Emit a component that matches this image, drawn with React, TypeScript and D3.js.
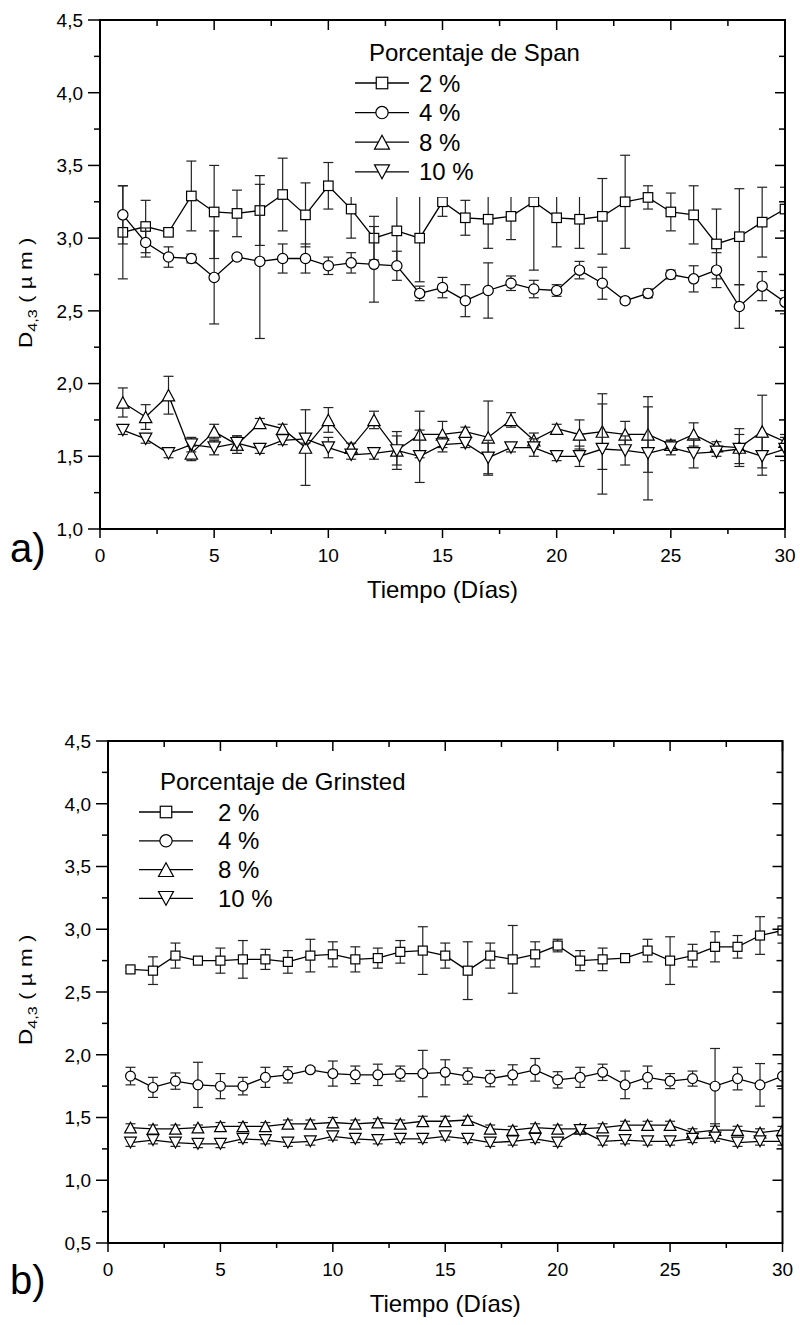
import { formatLocale, line as d3Line, scaleLinear } from "d3"

const days = [1, 2, 3, 4, 5, 6, 7, 8, 9, 10, 11, 12, 13, 14, 15, 16, 17, 18, 19, 20, 21, 22, 23, 24, 25, 26, 27, 28, 29, 30]

// a) Span
const span2 = [3.04, 3.08, 3.04, 3.29, 3.18, 3.17, 3.19, 3.3, 3.16, 3.36, 3.2, 3.0, 3.05, 3.0, 3.25, 3.14, 3.13, 3.15, 3.25, 3.14, 3.13, 3.15, 3.25, 3.28, 3.18, 3.16, 2.96, 3.01, 3.11, 3.2]
const span2Err = [0.32, 0.18, 0.02, 0.24, 0.32, 0.16, 0.24, 0.25, 0.22, 0.16, 0.2, 0.15, 0.25, 0.3, 0.1, 0.12, 0.2, 0.16, 0.47, 0.2, 0.2, 0.26, 0.32, 0.08, 0.13, 0.2, 0.24, 0.33, 0.24, 0.15]
const span4 = [3.16, 2.97, 2.87, 2.86, 2.73, 2.87, 2.84, 2.86, 2.86, 2.81, 2.83, 2.82, 2.81, 2.62, 2.66, 2.57, 2.64, 2.69, 2.65, 2.64, 2.78, 2.69, 2.57, 2.62, 2.75, 2.72, 2.78, 2.53, 2.67, 2.56]
const span4Err = [0.2, 0.1, 0.07, 0.03, 0.32, 0.02, 0.53, 0.1, 0.1, 0.06, 0.07, 0.26, 0.1, 0.05, 0.07, 0.11, 0.19, 0.05, 0.06, 0.04, 0.06, 0.11, 0.02, 0.03, 0.03, 0.09, 0.12, 0.15, 0.1, 0.08]
const span8 = [1.87, 1.77, 1.92, 1.52, 1.67, 1.58, 1.73, 1.69, 1.56, 1.75, 1.56, 1.75, 1.54, 1.65, 1.65, 1.67, 1.63, 1.75, 1.61, 1.69, 1.65, 1.67, 1.65, 1.65, 1.58, 1.65, 1.57, 1.56, 1.67, 1.6]
const span8Err = [0.1, 0.085, 0.13, 0.05, 0.05, 0.06, 0.03, 0.03, 0.26, 0.085, 0.03, 0.06, 0.13, 0.16, 0.09, 0.03, 0.25, 0.05, 0.05, 0.03, 0.1, 0.26, 0.09, 0.26, 0.03, 0.08, 0.03, 0.13, 0.25, 0.05]
const span10 = [1.68, 1.62, 1.52, 1.58, 1.56, 1.59, 1.55, 1.61, 1.62, 1.56, 1.51, 1.52, 1.54, 1.5, 1.58, 1.59, 1.49, 1.56, 1.56, 1.5, 1.5, 1.55, 1.54, 1.52, 1.56, 1.52, 1.53, 1.55, 1.5, 1.55]
const span10Err = [0.03, 0.03, 0.03, 0.05, 0.05, 0.05, 0.03, 0.03, 0.03, 0.07, 0.03, 0.04, 0.1, 0.18, 0.05, 0.03, 0.12, 0.03, 0.06, 0.03, 0.07, 0.31, 0.1, 0.32, 0.05, 0.1, 0.03, 0.1, 0.13, 0.08]

// b) Grinsted
const grin2 = [2.68, 2.67, 2.79, 2.75, 2.75, 2.76, 2.76, 2.74, 2.79, 2.8, 2.76, 2.77, 2.82, 2.83, 2.79, 2.67, 2.79, 2.76, 2.8, 2.87, 2.75, 2.76, 2.77, 2.83, 2.75, 2.79, 2.86, 2.86, 2.95, 2.99]
const grin2Err = [0.02, 0.11, 0.1, 0.02, 0.1, 0.15, 0.08, 0.09, 0.13, 0.1, 0.1, 0.08, 0.09, 0.19, 0.1, 0.23, 0.1, 0.27, 0.1, 0.05, 0.08, 0.09, 0.02, 0.09, 0.19, 0.09, 0.12, 0.09, 0.15, 0.1]
const grin4 = [1.83, 1.74, 1.79, 1.76, 1.75, 1.75, 1.82, 1.84, 1.88, 1.85, 1.84, 1.84, 1.85, 1.85, 1.86, 1.83, 1.81, 1.84, 1.88, 1.8, 1.82, 1.86, 1.76, 1.82, 1.79, 1.81, 1.75, 1.81, 1.76, 1.83]
const grin4Err = [0.07, 0.08, 0.065, 0.18, 0.1, 0.07, 0.08, 0.065, 0.02, 0.1, 0.07, 0.085, 0.06, 0.185, 0.1, 0.065, 0.065, 0.08, 0.09, 0.065, 0.08, 0.065, 0.11, 0.09, 0.06, 0.06, 0.3, 0.09, 0.17, 0.1]
const grin8 = [1.42, 1.41, 1.41, 1.42, 1.43, 1.43, 1.43, 1.45, 1.45, 1.46, 1.45, 1.46, 1.45, 1.47, 1.47, 1.48, 1.41, 1.4, 1.42, 1.41, 1.41, 1.42, 1.44, 1.44, 1.44, 1.38, 1.4, 1.4, 1.38, 1.4]
const grin8Err = [0.03, 0.03, 0.03, 0.02, 0.03, 0.03, 0.03, 0.03, 0.03, 0.04, 0.03, 0.03, 0.03, 0.04, 0.04, 0.03, 0.03, 0.03, 0.03, 0.03, 0.03, 0.03, 0.03, 0.03, 0.03, 0.03, 0.03, 0.03, 0.03, 0.03]
const grin10 = [1.3, 1.32, 1.3, 1.29, 1.29, 1.33, 1.32, 1.3, 1.31, 1.35, 1.33, 1.32, 1.33, 1.33, 1.35, 1.33, 1.3, 1.31, 1.33, 1.3, 1.4, 1.31, 1.32, 1.31, 1.31, 1.33, 1.34, 1.3, 1.31, 1.31]
const grin10Err = [0.03, 0.03, 0.03, 0.03, 0.03, 0.03, 0.03, 0.03, 0.03, 0.03, 0.03, 0.03, 0.03, 0.03, 0.03, 0.03, 0.03, 0.03, 0.03, 0.03, 0.03, 0.03, 0.03, 0.03, 0.03, 0.03, 0.03, 0.03, 0.03, 0.03]

const legendLabels = ["2 %", "4 %", "8 %", "10 %"]
const xTicks = [0, 5, 10, 15, 20, 25, 30]
const spanYTicks = [1.0, 1.5, 2.0, 2.5, 3.0, 3.5, 4.0, 4.5]
const grinYTicks = [0.5, 1.0, 1.5, 2.0, 2.5, 3.0, 3.5, 4.0, 4.5]

type Shape = "square" | "circle" | "up" | "down"
const shapes: Shape[] = ["square", "circle", "up", "down"]

const FONT = "'Liberation Sans', Arial, Helvetica, sans-serif"
const fmt = formatLocale({ decimal: ",", thousands: ".", grouping: [3], currency: ["", ""] }).format(".1f")

function Marker({ shape, cx, cy, s }: { shape: Shape; cx: number; cy: number; s: number }) {
  const common = { fill: "#fff", stroke: "#000", strokeWidth: 1.2 }
  if (shape === "square") return <rect x={cx - s / 2} y={cy - s / 2} width={s} height={s} {...common} />
  if (shape === "circle") return <circle cx={cx} cy={cy} r={s / 2 + 0.4} {...common} />
  const w = s * 1.3
  const h = s * 1.2
  const pts = shape === "up"
    ? [[cx, cy - h / 2], [cx + w / 2, cy + h / 2], [cx - w / 2, cy + h / 2]]
    : [[cx, cy + h / 2], [cx + w / 2, cy - h / 2], [cx - w / 2, cy - h / 2]]
  return <polygon points={pts.map((p) => p.join(",")).join(" ")} {...common} />
}

interface Frame { x0: number; x1: number; y0: number; y1: number }
interface LegendDef { title: string; titleX: number; titleY: number; lineX0: number; lineX1: number; textX: number; row0: number; gap: number; box: [number, number, number, number] }

interface PanelProps {
  id: string
  frame: Frame
  yTicks: number[]
  values: number[][]
  errors: number[][]
  legend: LegendDef
  tag: string
  tagY: number
  ylabY: number
}

function Panel({ id, frame, yTicks, values, errors, legend, tag, tagY, ylabY }: PanelProps) {
  const x = scaleLinear().domain([0, 30]).range([frame.x0, frame.x1])
  const y = scaleLinear().domain([yTicks[0], yTicks[yTicks.length - 1]]).range([frame.y1, frame.y0])
  const xMinor = xTicks.slice(1).map((t) => t - 2.5)
  const yMinor = yTicks.slice(1).map((t) => t - 0.25)
  const path = d3Line<number>().x((_, i) => x(days[i])).y((v) => y(v))
  const markerSize = id === "a" ? 9.5 : 9

  return (
    <g fontFamily={FONT}>
      <defs>
        <clipPath id={`clip-${id}`}>
          <rect x={frame.x0} y={frame.y0} width={frame.x1 - frame.x0} height={frame.y1 - frame.y0} />
        </clipPath>
      </defs>

      <g clipPath={`url(#clip-${id})`}>
        {values.map((vals, si) => (
          <g key={si}>
            <path d={path(vals) ?? ""} fill="none" stroke="#000" strokeWidth={1.3} />
            {vals.map((v, i) => {
              const e = errors[si][i]
              const cx = x(days[i])
              return (
                <g key={i} stroke="#222" strokeWidth={1.2}>
                  <line x1={cx} x2={cx} y1={y(v - e)} y2={y(v + e)} />
                  <line x1={cx - 5} x2={cx + 5} y1={y(v - e)} y2={y(v - e)} />
                  <line x1={cx - 5} x2={cx + 5} y1={y(v + e)} y2={y(v + e)} />
                </g>
              )
            })}
            {vals.map((v, i) => (
              <Marker key={i} shape={shapes[si]} cx={x(days[i])} cy={y(v)} s={markerSize} />
            ))}
          </g>
        ))}
      </g>

      <rect x={legend.box[0]} y={legend.box[1]} width={legend.box[2] - legend.box[0]} height={legend.box[3] - legend.box[1]} fill="#fff" />
      <text x={legend.titleX} y={legend.titleY} fontSize={24}>{legend.title}</text>
      {legendLabels.map((label, i) => {
        const ry = legend.row0 + i * legend.gap
        const mx = (legend.lineX0 + legend.lineX1) / 2
        return (
          <g key={label}>
            <line x1={legend.lineX0} x2={legend.lineX1} y1={ry} y2={ry} stroke="#000" strokeWidth={1.3} />
            <Marker shape={shapes[i]} cx={mx} cy={ry} s={11.5} />
            <text x={legend.textX} y={ry} dy="0.36em" fontSize={24}>{label}</text>
          </g>
        )
      })}

      <rect x={frame.x0} y={frame.y0} width={frame.x1 - frame.x0} height={frame.y1 - frame.y0} fill="none" stroke="#000" strokeWidth={2} />

      {xTicks.map((t) => (
        <g key={`x${t}`} stroke="#000" strokeWidth={1.5}>
          <line x1={x(t)} x2={x(t)} y1={frame.y1} y2={frame.y1 + 9} />
          <line x1={x(t)} x2={x(t)} y1={frame.y0} y2={frame.y0 + 10} />
        </g>
      ))}
      {xMinor.map((t) => (
        <g key={`xm${t}`} stroke="#000" strokeWidth={1.5}>
          <line x1={x(t)} x2={x(t)} y1={frame.y1} y2={frame.y1 + 5} />
          <line x1={x(t)} x2={x(t)} y1={frame.y0} y2={frame.y0 + 6} />
        </g>
      ))}
      {yTicks.map((t) => (
        <g key={`y${t}`} stroke="#000" strokeWidth={1.5}>
          <line x1={frame.x0 - 12} x2={frame.x0} y1={y(t)} y2={y(t)} />
          <line x1={frame.x1 - 10} x2={frame.x1} y1={y(t)} y2={y(t)} />
        </g>
      ))}
      {yMinor.map((t) => (
        <g key={`ym${t}`} stroke="#000" strokeWidth={1.5}>
          <line x1={frame.x0 - 6} x2={frame.x0} y1={y(t)} y2={y(t)} />
          <line x1={frame.x1 - 6} x2={frame.x1} y1={y(t)} y2={y(t)} />
        </g>
      ))}

      {xTicks.map((t) => (
        <text key={`xl${t}`} x={x(t)} y={frame.y1 + 33} textAnchor="middle" fontSize={19}>{t}</text>
      ))}
      {yTicks.map((t) => (
        <text key={`yl${t}`} x={frame.x0 - 17} y={y(t)} dy="0.36em" textAnchor="end" fontSize={19}>{fmt(t)}</text>
      ))}

      <text x={(frame.x0 + frame.x1) / 2} y={frame.y1 + 69} textAnchor="middle" fontSize={24}>Tiempo (Días)</text>
      <g transform={`translate(32,${ylabY}) rotate(-90) scale(1.25,1)`}>
        <text fontSize={18}>
          D<tspan dy={5} fontSize={13}>4,3</tspan><tspan dy={-5}>  ( µ m )</tspan>
        </text>
      </g>
      <text x={10} y={tagY} fontSize={40}>{tag}</text>
    </g>
  )
}

export default function App() {
  return (
    <svg width={800} height={1325} viewBox="0 0 800 1325" style={{ position: "absolute", left: 0, top: 0, background: "#fff" }}>
      <rect width={800} height={1325} fill="#fff" />
      <Panel
        id="a"
        frame={{ x0: 100, x1: 785, y0: 20, y1: 529 }}
        yTicks={spanYTicks}
        values={[span2, span4, span8, span10]}
        errors={[span2Err, span4Err, span8Err, span10Err]}
        legend={{ title: "Porcentaje de Span", titleX: 369, titleY: 61, lineX0: 355, lineX1: 409, textX: 419, row0: 83, gap: 29.6, box: [340, 32, 592, 197] }}
        tag="a)"
        tagY={562}
        ylabY={348}
      />
      <Panel
        id="b"
        frame={{ x0: 108, x1: 782.5, y0: 741, y1: 1243 }}
        yTicks={grinYTicks}
        values={[grin2, grin4, grin8, grin10]}
        errors={[grin2Err, grin4Err, grin8Err, grin10Err]}
        legend={{ title: "Porcentaje de Grinsted", titleX: 160, titleY: 790, lineX0: 139, lineX1: 193, textX: 218, row0: 812, gap: 28.8, box: [130, 760, 410, 912] }}
        tag="b)"
        tagY={1294}
        ylabY={1045}
      />
    </svg>
  )
}
